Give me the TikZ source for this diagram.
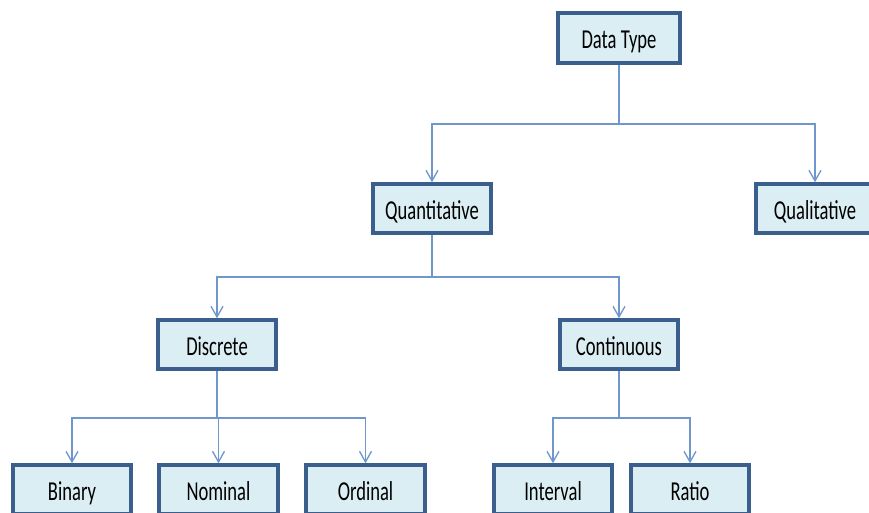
\documentclass[tikz,border=0pt]{standalone}
\usepackage{fontspec}
\setmainfont[FakeStretch=0.68]{Carlito}
\usetikzlibrary{arrows.meta}

\definecolor{boxfill}{HTML}{DBEEF4}
\definecolor{boxline}{HTML}{3A5F8C}
\definecolor{linkblue}{HTML}{6F97CE}

\begin{document}
\begin{tikzpicture}[
    x=0.75pt, y=-0.75pt,
    typebox/.style={draw=boxline, fill=boxfill, line width=2.8pt, minimum width=89pt, minimum height=36.5pt, inner sep=0pt, text height=18pt, text depth=2pt, font=\fontsize{20.5}{22}\selectfont},
    link/.style={draw=linkblue, line width=1.3pt, -{Straight Barb[length=8pt, width=9pt, line width=1pt]}}
]
    \useasboundingbox (0,0) rectangle (869,513);

    % Nodes
    \node (dtype) [typebox, minimum width=91pt, minimum height=37.5pt] at (619,38) {Data Type};
    \node (quant) [typebox] at (432,208.5) {Quantitative};
    \node (qual) [typebox] at (815,208.5) {Qualitative};
    \node (disc) [typebox] at (217,344.5) {Discrete};
    \node (cont) [typebox] at (619,344.5) {Continuous};
    \node (bin) [typebox] at (72,489.5) {Binary};
    \node (nom) [typebox] at (218.5,489.5) {Nominal};
    \node (ord) [typebox] at (365.5,489.5) {Ordinal};
    \node (intv) [typebox] at (553,489.5) {Interval};
    \node (ratio) [typebox] at (690,489.5) {Ratio};

    % Branch points
    \coordinate (b1) at (619,124);
    \coordinate (b2) at (432,277);
    \coordinate (b3) at (217,418);
    \coordinate (b4) at (619,418);

    % Paths
    \draw [link] (dtype) -- (b1) -| (quant);
    \draw [link] (b1) -| (qual);
    \draw [link] (quant) -- (b2) -| (disc);
    \draw [link] (b2) -| (cont);
    \draw [link] (disc) -- (b3) -| (bin);
    \draw [link] (b3) -| (nom);
    \draw [link] (b3) -| (ord);
    \draw [link] (cont) -- (b4) -| (intv);
    \draw [link] (b4) -| (ratio);
\end{tikzpicture}
\end{document}
